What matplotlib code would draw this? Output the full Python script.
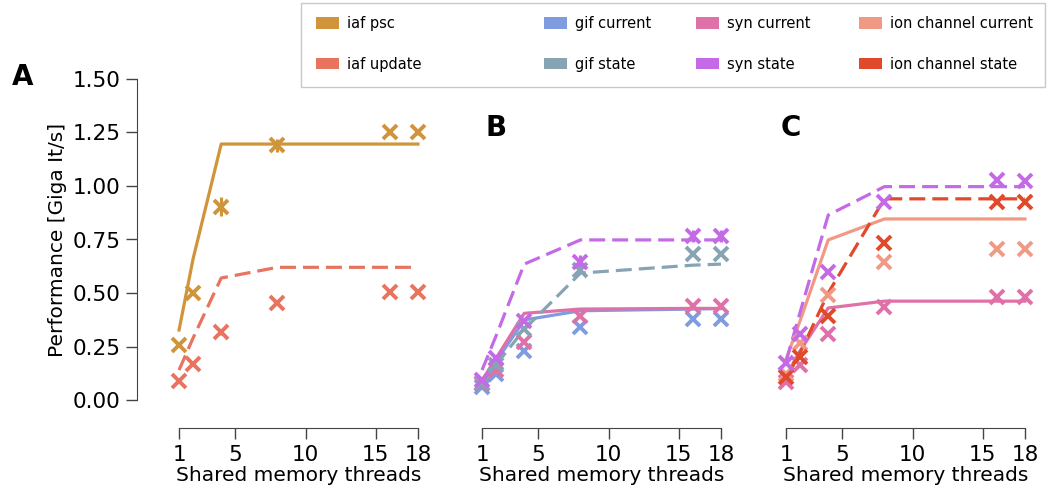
import matplotlib
matplotlib.use("Agg")
import matplotlib.pyplot as plt
from matplotlib.patches import Patch, Rectangle

# shared memory threads
threads = [1, 2, 4, 8, 16, 18]

# measured performance (markers) and model (lines), Giga It/s
iaf_psc_meas = [0.257, 0.50, 0.903, 1.19, 1.25, 1.25]
iaf_psc_err = [0.01, 0.01, 0.045, 0.03, 0.01, 0.01]
iaf_psc_model = [0.327, 0.66, 1.196, 1.196, 1.196, 1.196]
iaf_upd_meas = [0.088, 0.168, 0.316, 0.453, 0.505, 0.505]
iaf_upd_err = [0.01, 0.01, 0.01, 0.01, 0.01, 0.01]
iaf_upd_model = [0.14, 0.29, 0.57, 0.62, 0.62, 0.62]

gif_cur_meas = [0.062, 0.12, 0.23, 0.341, 0.379, 0.379]
gif_cur_model = [0.078, 0.18, 0.374, 0.417, 0.425, 0.427]
gif_st_meas = [0.08, 0.165, 0.33, 0.607, 0.682, 0.682]
gif_st_model = [0.075, 0.165, 0.33, 0.593, 0.63, 0.635]
synB_cur_meas = [0.075, 0.14, 0.27, 0.392, 0.437, 0.437]
synB_cur_model = [0.093, 0.195, 0.405, 0.425, 0.428, 0.428]
synB_st_meas = [0.095, 0.195, 0.37, 0.646, 0.766, 0.766]
synB_st_err = [0.01, 0.01, 0.01, 0.03, 0.03, 0.03]
synB_st_model = [0.14, 0.30, 0.635, 0.748, 0.748, 0.748]

ion_cur_meas = [0.12, 0.266, 0.49, 0.646, 0.704, 0.704]
ion_cur_model = [0.19, 0.37, 0.748, 0.846, 0.846, 0.846]
ion_st_meas = [0.109, 0.203, 0.392, 0.732, 0.927, 0.927]
ion_st_model = [0.10, 0.22, 0.50, 0.94, 0.94, 0.94]
synC_cur_meas = [0.086, 0.164, 0.31, 0.436, 0.483, 0.483]
synC_cur_model = [0.11, 0.23, 0.43, 0.462, 0.462, 0.462]
synC_st_meas = [0.172, 0.308, 0.60, 0.927, 1.028, 1.022]
synC_st_model = [0.18, 0.41, 0.864, 0.997, 0.997, 0.997]

colors = {
    "iaf psc": "#d0943a",
    "iaf update": "#e8735e",
    "gif current": "#7f9cde",
    "gif state": "#86a4b4",
    "syn current": "#e070a8",
    "syn state": "#c46ae6",
    "ion channel current": "#f09a86",
    "ion channel state": "#e04a2a",
}

legend_cols = [["iaf psc", "iaf update"],
               ["gif current", "gif state"],
               ["syn current", "syn state"],
               ["ion channel current", "ion channel state"]]

W, H = 1049, 494
fig = plt.figure(figsize=(W / 100, H / 100), dpi=100)

ax_lefts = [165, 468, 772]
axes = [fig.add_axes([l / W, 94 / H, 267 / W, 321 / H]) for l in ax_lefts]

dash = (5, 2.2)


def draw(ax, meas, model, name, dashed, err=None):
    c = colors[name]
    if err is None:
        err = [0.008] * len(meas)
    ax.errorbar(threads, meas, yerr=err, fmt="x", color=c, ms=10, mew=2.8,
                elinewidth=2.2, capsize=0, clip_on=False)
    ln, = ax.plot(threads, model, color=c, lw=2.3, clip_on=False)
    if dashed:
        ln.set_dashes(dash)


axA, axB, axC = axes
draw(axA, iaf_upd_meas, iaf_upd_model, "iaf update", True, iaf_upd_err)
draw(axA, iaf_psc_meas, iaf_psc_model, "iaf psc", False, iaf_psc_err)

draw(axB, gif_cur_meas, gif_cur_model, "gif current", False)
draw(axB, synB_cur_meas, synB_cur_model, "syn current", False)
draw(axB, gif_st_meas, gif_st_model, "gif state", True)
draw(axB, synB_st_meas, synB_st_model, "syn state", True, synB_st_err)

draw(axC, synC_cur_meas, synC_cur_model, "syn current", False)
draw(axC, ion_cur_meas, ion_cur_model, "ion channel current", False)
draw(axC, ion_st_meas, ion_st_model, "ion channel state", True)
draw(axC, synC_st_meas, synC_st_model, "syn state", True)

off = 28 * 0.72
for i, ax in enumerate(axes):
    ax.set_xlim(0, 19)
    ax.set_ylim(0, 1.5)
    ax.set_facecolor("none")
    for s in ["top", "right"]:
        ax.spines[s].set_visible(False)
    ax.spines["bottom"].set_position(("outward", off))
    ax.spines["bottom"].set_bounds(1, 18)
    ax.spines["bottom"].set_color("#444444")
    ax.set_xticks([1, 5, 10, 15, 18])
    ax.tick_params(axis="x", labelsize=15.5, length=8, width=1,
                   color="#444444", pad=4)
    ax.set_xlabel("Shared memory threads", fontsize=14.5, labelpad=1)
    if i == 0:
        ax.spines["left"].set_position(("outward", off))
        ax.spines["left"].set_bounds(0, 1.5)
        ax.spines["left"].set_color("#444444")
        ax.set_yticks([0, 0.25, 0.5, 0.75, 1.0, 1.25, 1.5])
        ax.set_yticklabels(["%.2f" % v for v in ax.get_yticks()])
        ax.tick_params(axis="y", labelsize=15.5, length=8, width=1,
                       color="#444444", pad=4)
        ax.set_ylabel("Performance [Giga It/s]", fontsize=14.5, labelpad=4)
    else:
        ax.spines["left"].set_visible(False)
        ax.set_yticks([])

fig.text(12 / W, 1 - 85 / H, "A", fontsize=20, fontweight="bold")
fig.text(486 / W, 1 - 136 / H, "B", fontsize=20, fontweight="bold")
fig.text(781 / W, 1 - 136 / H, "C", fontsize=20, fontweight="bold")

# legend: four columns inside one frame
col_x = [316, 544, 696, 859]
for x0, names in zip(col_x, legend_cols):
    handles = [Patch(facecolor=colors[n], edgecolor="none") for n in names]
    leg = fig.legend(handles, names, loc="upper left",
                     bbox_to_anchor=(x0 / W, 1 - 16 / H),
                     bbox_transform=fig.transFigure, frameon=False,
                     fontsize=10.5, handlelength=1.56, handleheight=0.8,
                     handletextpad=0.55, labelspacing=1.75, borderpad=0,
                     borderaxespad=0)
fig.patches.append(Rectangle((301 / W, 1 - 87 / H), 744 / W, 84 / H,
                             transform=fig.transFigure, fill=False,
                             edgecolor="#c8c8c8", lw=1))

fig.savefig("out.png", dpi=100)
